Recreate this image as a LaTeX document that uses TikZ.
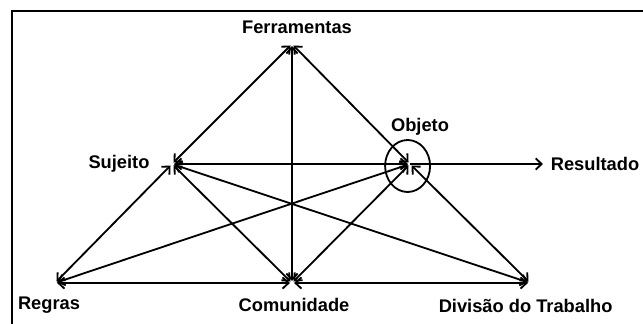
\documentclass[tikz,border=0pt]{standalone}
\usepackage{fontspec}
\setmainfont{Liberation Sans}
\usetikzlibrary{arrows.meta,shapes.geometric}

\begin{document}
\begin{tikzpicture}
        [line width=1.3pt,>={Straight Barb[length=1.5mm,width=2.8mm]},
        lbl/.style={inner sep=0pt,font=\fontsize{13}{15}\selectfont\bfseries}]
        \useasboundingbox (0,0) rectangle (16.075,8.075);
        % moldura
        \draw[line width=1.1pt] (0.3,-0.2) |- (16.3,7.8);
        %% vertices
        \coordinate (ferr) at (7.3,6.975);
        \coordinate (suj) at (4.3,3.975);
        \coordinate (obj) at (10.25,3.975);
        \coordinate (res) at (13.575,3.975);
        \coordinate (reg) at (1.375,1.0);
        \coordinate (com) at (7.3,1.0);
        \coordinate (div) at (13.25,1.0);
        %% rotulos
        \node[lbl] (ferrLbl) at (7.425,7.4) {Ferramentas};
        \node[lbl] (sujLbl) at (2.975,3.975) {Sujeito};
        \node[lbl] (objLbl) at (10.5,4.9) {Objeto};
        \node[lbl] (resLbl) at (14.875,3.975) {Resultado};
        \node[lbl] (regLbl) at (1.225,0.45) {Regras};
        \node[lbl] (comLbl) at (7.35,0.45) {Comunidade};
        \node[lbl] (divLbl) at (13.14,0.43) {Divisão do Trabalho};
        \draw (10.19,3.925) ellipse [x radius=0.5625,y radius=0.65];
        %%
        \path
        \foreach \startNode/\endNode in {ferr/suj,ferr/com,ferr/obj,suj/obj,
          suj/reg,suj/com,suj/div,reg/obj,com/obj,obj/div,reg/com,com/div}
        {
          (\startNode) edge[<->,shorten <=1.5pt,shorten >=1.5pt] (\endNode)
        };
        \draw[->] (obj) -- (res);
	\end{tikzpicture}
\end{document}
